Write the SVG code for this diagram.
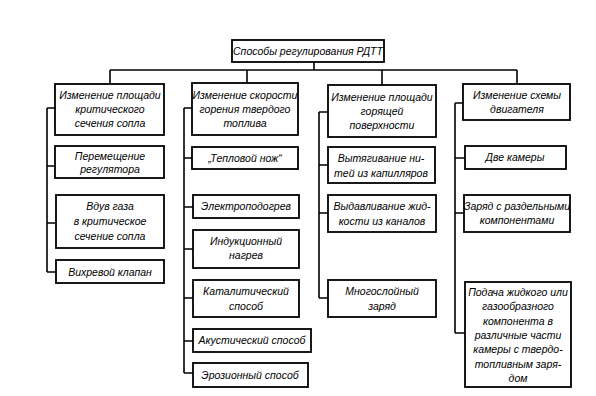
<svg xmlns="http://www.w3.org/2000/svg" width="596" height="396" viewBox="0 0 596 396">
<style>
.b{fill:#fff;stroke:#000;stroke-width:1.8}
.c{fill:none;stroke:#000;stroke-width:1.6}
text{font-family:"Liberation Sans",Arial,sans-serif;font-style:italic;font-size:10.5px;text-anchor:middle;fill:#000}
</style>
<rect width="596" height="396" fill="#fff"/>
<g id="connectors" class="c">
<path d="M314 62V70M110 70H517M110 70V84M247 70V83M382 70V85M517 70V84"/>
<path d="M47 108V272M47 108H55M47 166H55M47 223H56M47 272H56"/>
<path d="M184 108V373M184 108H192M184 158H192M184 207H193M184 249H193M184 298H193M184 341H193M184 373H193"/>
<path d="M319 112V298M319 112H328M319 165H328M319 213H328M319 298H328"/>
<path d="M455 103V333M455 103H463M455 158H465M455 213H464M455 333H465"/>
</g>
<g id="root"><rect class="b" x="232" y="40" width="152" height="22"/><text x="308" y="55" font-size="11.5">Способы регулирования РДТТ</text></g>
<g id="c1"><rect class="b" x="55" y="84" width="109" height="51"/><text x="110" y="99">Изменение площади</text><text x="110" y="113">критического</text><text x="110" y="127">сечения сопла</text></g>
<g id="c1a"><rect class="b" x="55" y="146" width="109" height="32"/><text x="110" y="160">Перемещение</text><text x="110" y="173">регулятора</text></g>
<g id="c1b"><rect class="b" x="56" y="195" width="108" height="53"/><text x="110" y="210">Вдув газа</text><text x="110" y="225">в критическое</text><text x="110" y="240">сечение сопла</text></g>
<g id="c1c"><rect class="b" x="56" y="260" width="108" height="23"/><text x="110" y="276">Вихревой клапан</text></g>
<g id="c2"><rect class="b" x="192" y="83" width="106" height="52"/><text x="245" y="99">Изменение скорости</text><text x="245" y="113">горения твердого</text><text x="245" y="127">топлива</text></g>
<g id="c2a"><rect class="b" x="192" y="147" width="106" height="22"/><text x="245" y="162">„Тепловой нож“</text></g>
<g id="c2b"><rect class="b" x="193" y="195" width="106" height="23"/><text x="246" y="210">Электроподогрев</text></g>
<g id="c2c"><rect class="b" x="193" y="230" width="106" height="38"/><text x="246" y="245">Индукционный</text><text x="246" y="259">нагрев</text></g>
<g id="c2d"><rect class="b" x="193" y="280" width="106" height="37"/><text x="246" y="295">Каталитический</text><text x="246" y="310">способ</text></g>
<g id="c2e"><rect class="b" x="193" y="329" width="118" height="23"/><text x="252" y="344">Акустический способ</text></g>
<g id="c2f"><rect class="b" x="193" y="363" width="115" height="24"/><text x="250" y="379">Эрозионный способ</text></g>
<g id="c3"><rect class="b" x="328" y="85" width="108" height="52"/><text x="382" y="101">Изменение площади</text><text x="382" y="115">горящей</text><text x="382" y="129">поверхности</text></g>
<g id="c3a"><rect class="b" x="328" y="147" width="107" height="36"/><text x="381" y="162">Вытягивание ни-</text><text x="381" y="177">тей из капилляров</text></g>
<g id="c3b"><rect class="b" x="328" y="195" width="108" height="37"/><text x="382" y="210">Выдавливание жид-</text><text x="382" y="225">кости из каналов</text></g>
<g id="c3c"><rect class="b" x="328" y="280" width="108" height="37"/><text x="382" y="295">Многослойный</text><text x="382" y="310">заряд</text></g>
<g id="c4"><rect class="b" x="463" y="84" width="107" height="36"/><text x="517" y="99">Изменение схемы</text><text x="517" y="113">двигателя</text></g>
<g id="c4a"><rect class="b" x="465" y="146" width="101" height="23"/><text x="515" y="161">Две камеры</text></g>
<g id="c4b"><rect class="b" x="464" y="195" width="106" height="37"/><text x="517" y="210">Заряд с раздельными</text><text x="517" y="224">компонентами</text></g>
<g id="c4c"><rect class="b" x="465" y="282" width="106" height="105"/><text x="518" y="296">Подача жидкого или</text><text x="518" y="310">газообразного</text><text x="518" y="325">компонента в</text><text x="518" y="339">различные части</text><text x="518" y="353">камеры с твердо-</text><text x="518" y="368">топливным заря-</text><text x="518" y="382">дом</text></g>
</svg>
